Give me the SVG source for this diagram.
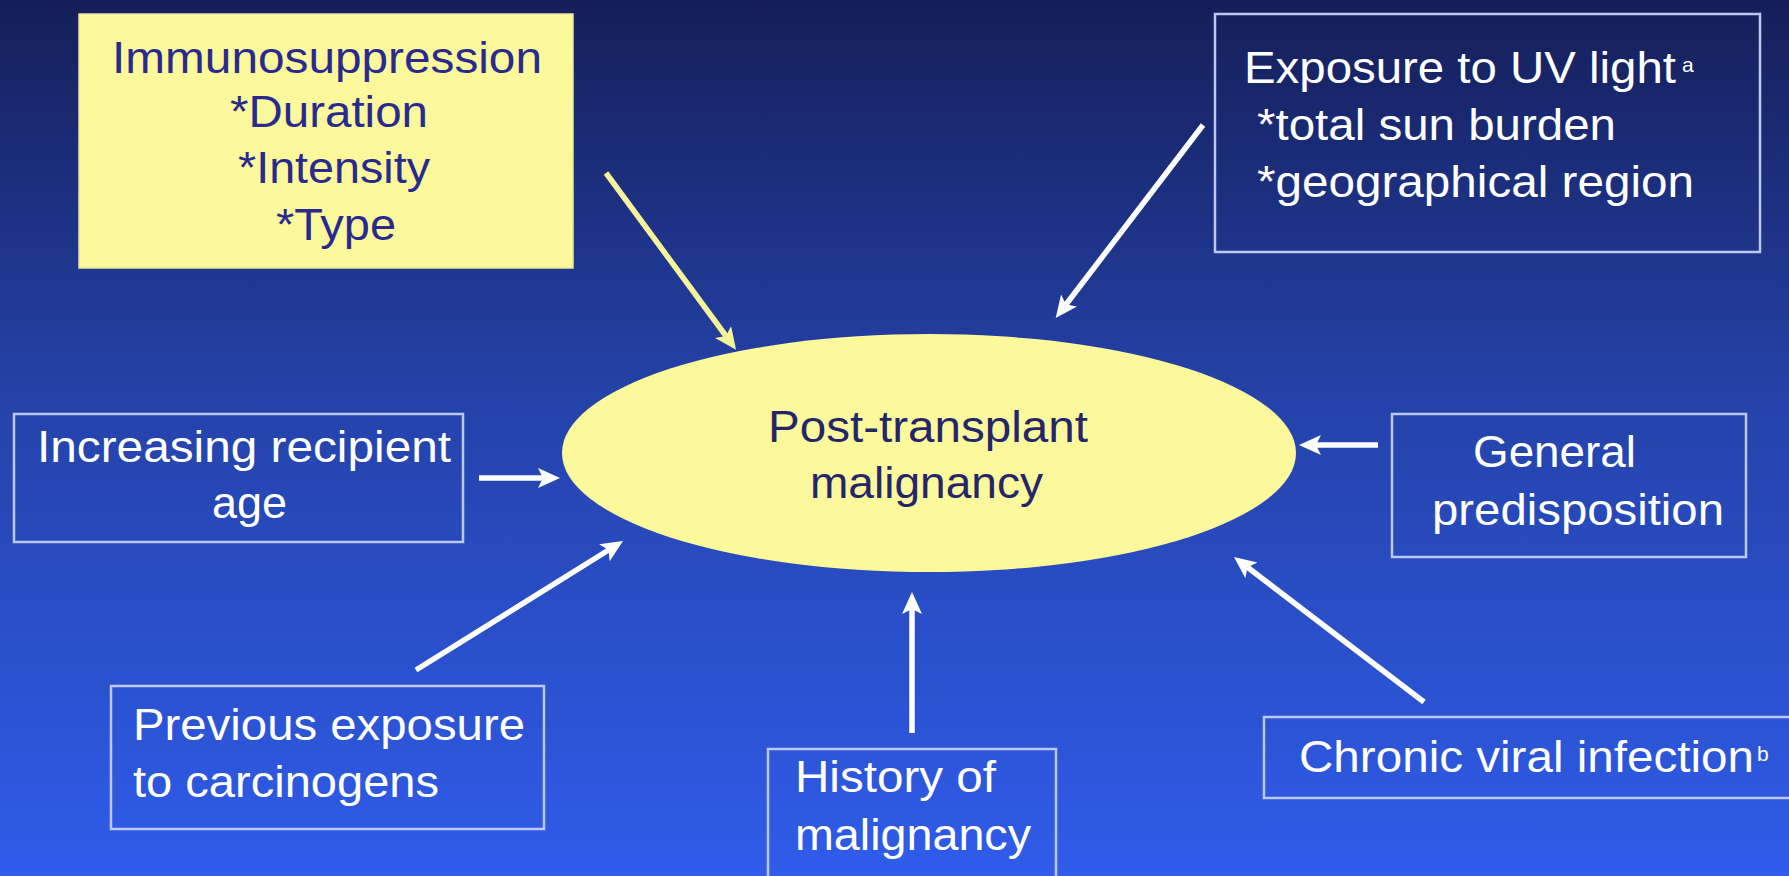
<svg xmlns="http://www.w3.org/2000/svg" width="1789" height="876" viewBox="0 0 1789 876">
<defs>
<linearGradient id="bg" x1="0" y1="0" x2="0" y2="1">
<stop offset="0" stop-color="#151E58"/>
<stop offset="0.45" stop-color="#2442A8"/>
<stop offset="1" stop-color="#2F5CEA"/>
</linearGradient>
<marker id="ahW" markerUnits="userSpaceOnUse" markerWidth="24" markerHeight="22" refX="5" refY="10" orient="auto">
<path d="M0,0 L22,10 L0,20 L5,10 z" fill="#FFFFFF"/>
</marker>
<marker id="ahY" markerUnits="userSpaceOnUse" markerWidth="24" markerHeight="22" refX="5" refY="10" orient="auto">
<path d="M0,0 L22,10 L0,20 L5,10 z" fill="#F6F39A"/>
</marker>
</defs>
<style>
text{font-family:"Liberation Sans",Arial,Helvetica,sans-serif;font-size:44px}
.w{fill:#FFFFFF}
.sup{font-size:21px}
.box{fill:none;stroke:#BCC8F0;stroke-width:2.5}
.yb{fill:#FCF89C;stroke:#E8E4A0;stroke-width:1.5}
.it{fill:#2A2A8E}
.et{fill:#25256A}
.cw{stroke:#FFFFFF;stroke-width:5.5;fill:none;marker-end:url(#ahW)}
.cy{stroke:#F6F39A;stroke-width:5.5;fill:none;marker-end:url(#ahY)}
</style>
<rect x="0" y="0" width="1789" height="876" fill="url(#bg)"/>

<g id="connectors">
<line class="cy" x1="606" y1="173" x2="726" y2="336"/>
<line class="cw" x1="1203" y1="125" x2="1066" y2="304.5"/>
<line class="cw" x1="479" y1="478" x2="543" y2="478"/>
<line class="cw" x1="416" y1="670" x2="608.6" y2="550"/>
<line class="cw" x1="912" y1="733" x2="912" y2="609"/>
<line class="cw" x1="1424" y1="702" x2="1247.5" y2="567.3"/>
<line class="cw" x1="1378" y1="445" x2="1316" y2="445"/>
</g>

<g id="immunosuppression">
<rect class="yb" x="79" y="14" width="494" height="254"/>
<text class="it" x="112" y="73" textLength="430" lengthAdjust="spacingAndGlyphs">Immunosuppression</text>
<text class="it" x="230" y="127" textLength="198" lengthAdjust="spacingAndGlyphs">*Duration</text>
<text class="it" x="238" y="183" textLength="192" lengthAdjust="spacingAndGlyphs">*Intensity</text>
<text class="it" x="276" y="240" textLength="120" lengthAdjust="spacingAndGlyphs">*Type</text>
</g>

<g id="uv-light">
<rect class="box" x="1215" y="14" width="545" height="238"/>
<text class="w" x="1244" y="83" textLength="432" lengthAdjust="spacingAndGlyphs">Exposure to UV light</text>
<text class="w sup" x="1682" y="72">a</text>
<text class="w" x="1257" y="140" textLength="359" lengthAdjust="spacingAndGlyphs">*total sun burden</text>
<text class="w" x="1257" y="197" textLength="437" lengthAdjust="spacingAndGlyphs">*geographical region</text>
</g>

<g id="malignancy">
<ellipse cx="929" cy="453" rx="367" ry="119" fill="#FCF89C"/>
<text class="et" x="768" y="442" textLength="320" lengthAdjust="spacingAndGlyphs">Post-transplant</text>
<text class="et" x="810" y="498" textLength="233" lengthAdjust="spacingAndGlyphs">malignancy</text>
</g>

<g id="age">
<rect class="box" x="14" y="414" width="449" height="128"/>
<text class="w" x="37" y="462" textLength="414" lengthAdjust="spacingAndGlyphs">Increasing recipient</text>
<text class="w" x="212" y="518" textLength="75" lengthAdjust="spacingAndGlyphs">age</text>
</g>

<g id="predisposition">
<rect class="box" x="1392" y="414" width="354" height="143"/>
<text class="w" x="1473" y="467" textLength="163" lengthAdjust="spacingAndGlyphs">General</text>
<text class="w" x="1432" y="525" textLength="292" lengthAdjust="spacingAndGlyphs">predisposition</text>
</g>

<g id="carcinogens">
<rect class="box" x="111" y="686" width="433" height="143"/>
<text class="w" x="133" y="740" textLength="392" lengthAdjust="spacingAndGlyphs">Previous exposure</text>
<text class="w" x="133" y="797" textLength="306" lengthAdjust="spacingAndGlyphs">to carcinogens</text>
</g>

<g id="history">
<rect class="box" x="768" y="749" width="288" height="140"/>
<text class="w" x="795" y="792" textLength="201" lengthAdjust="spacingAndGlyphs">History of</text>
<text class="w" x="795" y="850" textLength="236" lengthAdjust="spacingAndGlyphs">malignancy</text>
</g>

<g id="viral">
<rect class="box" x="1264" y="717" width="540" height="81"/>
<text class="w" x="1299" y="772" textLength="455" lengthAdjust="spacingAndGlyphs">Chronic viral infection</text>
<text class="w sup" x="1757" y="761">b</text>
</g>
</svg>
